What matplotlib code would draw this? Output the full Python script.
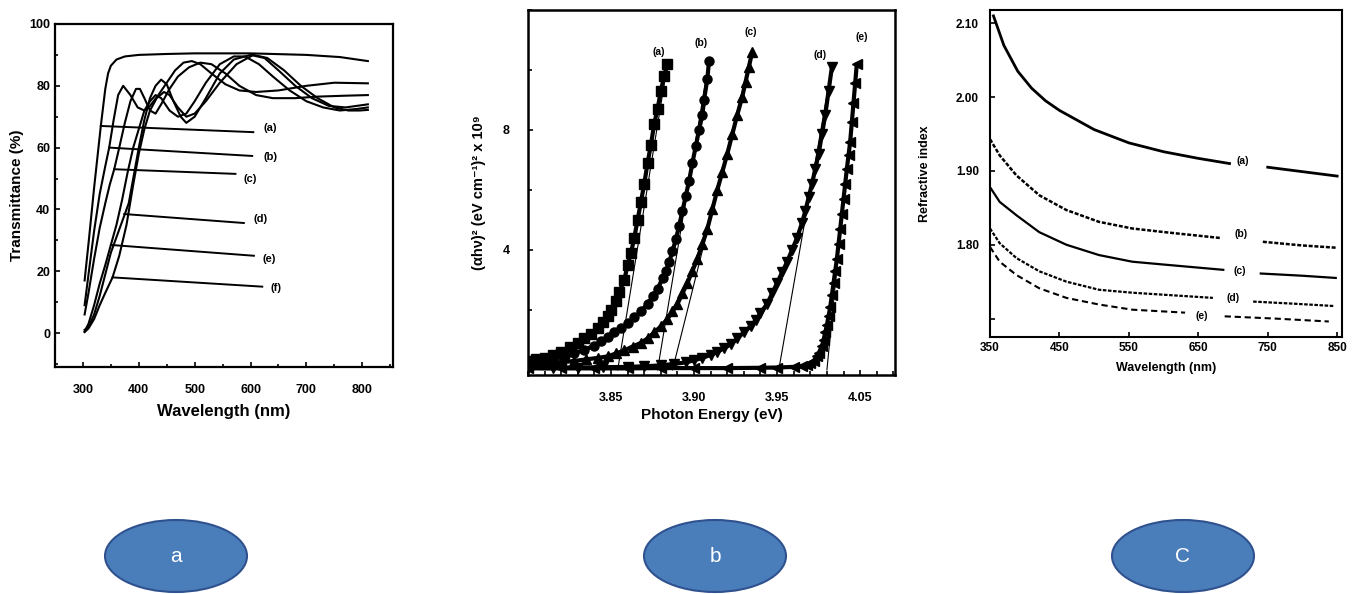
import numpy as np
import matplotlib
matplotlib.use('Agg')
import matplotlib.pyplot as plt
from matplotlib.patches import Ellipse
from matplotlib.ticker import MultipleLocator

plt.rcParams['font.family'] = ['Liberation Sans', 'DejaVu Sans']

# ---------- panel a: transmittance ----------
ta_wl = [303, 310, 320, 332, 340, 345, 350, 360, 375, 400, 450, 500, 600, 700, 760, 810]
ta_T = [17, 29, 47, 67, 79, 84, 86.5, 88.5, 89.5, 90, 90.3, 90.5, 90.5, 90, 89.3, 88]

tb_wl = [303, 310, 320, 330, 340, 347, 355, 363, 372, 385, 398, 410, 420, 435, 450, 465,
         480, 495, 510, 530, 555, 580, 610, 650, 700, 750, 810]
tb_T = [9, 19, 33, 45, 54, 60, 69, 77, 80, 77, 73, 72, 73.5, 77, 81, 85,
        87.5, 88, 87, 84, 80.5, 78.5, 78, 78.5, 80, 81, 80.8]

tc_wl = [303, 310, 320, 330, 340, 348, 356, 365, 375, 385, 395, 402, 410, 420, 430, 440,
         455, 470, 490, 510, 530, 555, 580, 610, 640, 680, 720, 770, 810]
tc_T = [6, 13, 24, 34, 42, 48, 53, 60, 68, 75, 79, 79, 76, 72, 71, 74,
        79, 83, 86, 87.5, 87, 84, 80, 77, 76, 76, 76.5, 76.8, 77]

td_wl = [303, 310, 320, 330, 340, 350, 360, 368, 374, 382, 390, 400, 410, 420, 430, 440,
         450, 462, 475, 485, 500, 520, 545, 570, 600, 625, 650, 680, 710, 740, 770, 790, 810]
td_T = [1, 2, 6, 12, 19, 26, 31, 35, 38, 42, 50, 60, 69, 76, 80, 82,
        80.5, 75, 70, 68, 70, 76, 84, 88.5, 90, 89, 85, 80, 76, 73.5, 73, 73.5, 74]

te_wl = [303, 310, 320, 330, 340, 350, 360, 370, 380, 390, 400, 410, 420, 430, 440, 455,
         470, 485, 500, 520, 545, 570, 590, 615, 640, 670, 700, 730, 760, 790, 810]
te_T = [0.5, 3, 9, 16, 22, 28.5, 35, 43, 52, 60, 66, 72, 75, 77, 76, 72,
        70, 71, 75, 81, 87, 89.5, 89.5, 87, 83, 78.5, 75, 73, 72, 72.5, 73]

tf_wl = [303, 310, 320, 330, 340, 353, 365, 378, 390, 400, 410, 420, 432, 445, 455, 470,
         485, 500, 520, 545, 575, 605, 630, 660, 690, 720, 750, 775, 795, 810]
tf_T = [0.3, 1.5, 4.5, 9, 13, 18, 25, 35, 48, 58, 66, 72, 76, 78, 77, 73,
        70, 71, 75, 81, 87, 90, 89, 85, 80, 76, 73, 72, 72, 72.2]

trans_labels = ['(a)', '(b)', '(c)', '(d)', '(e)', '(f)']
# leader lines: start on curve, end near label
lead_start = [(332, 67), (347, 60), (356, 53), (374, 38.5), (350, 28.5), (353, 18)]
lead_end = [(605, 65), (603, 57.3), (573, 51.5), (588, 35.6), (606, 25), (621, 15)]
lead_text = [(636, 66.5), (636, 57), (600, 50), (618, 37), (633, 24), (646, 14.5)]

# ---------- panel b: (alpha h nu)^2 vs photon energy ----------
ea_E = [3.800, 3.805, 3.810, 3.815, 3.820, 3.825, 3.830, 3.834, 3.838, 3.842, 3.845,
        3.848, 3.850, 3.853, 3.855, 3.858, 3.860, 3.862, 3.864, 3.866, 3.868, 3.870,
        3.872, 3.874, 3.876, 3.878, 3.880, 3.882, 3.884]
ea_y = [0.30, 0.35, 0.40, 0.50, 0.60, 0.75, 0.90, 1.05, 1.20, 1.40, 1.60,
        1.80, 2.00, 2.30, 2.60, 3.00, 3.50, 3.90, 4.40, 5.00, 5.60, 6.20,
        6.90, 7.50, 8.20, 8.70, 9.30, 9.80, 10.2]

eb_E = [3.800, 3.808, 3.815, 3.822, 3.828, 3.834, 3.840, 3.844, 3.848, 3.852, 3.856,
        3.860, 3.864, 3.868, 3.872, 3.875, 3.878, 3.881, 3.883, 3.885, 3.887, 3.889,
        3.891, 3.893, 3.895, 3.897, 3.899, 3.901, 3.903, 3.905, 3.906, 3.908, 3.909]
eb_y = [0.20, 0.28, 0.35, 0.45, 0.55, 0.68, 0.80, 0.95, 1.10, 1.25, 1.40,
        1.55, 1.75, 1.95, 2.20, 2.45, 2.70, 3.05, 3.30, 3.60, 3.95, 4.35,
        4.80, 5.30, 5.80, 6.30, 6.90, 7.45, 8.00, 8.50, 9.00, 9.70, 10.3]

ec_E = [3.800, 3.810, 3.820, 3.828, 3.835, 3.842, 3.848, 3.853, 3.858, 3.863, 3.868,
        3.872, 3.876, 3.880, 3.884, 3.887, 3.890, 3.893, 3.896, 3.899, 3.902, 3.905,
        3.908, 3.911, 3.914, 3.917, 3.920, 3.923, 3.926, 3.929, 3.931, 3.933, 3.935]
ec_y = [0.15, 0.20, 0.25, 0.30, 0.35, 0.40, 0.45, 0.55, 0.65, 0.78, 0.90,
        1.05, 1.25, 1.45, 1.70, 1.95, 2.20, 2.55, 2.90, 3.30, 3.70, 4.20,
        4.70, 5.35, 6.00, 6.60, 7.20, 7.85, 8.50, 9.10, 9.60, 10.1, 10.6]

ed_E = [3.800, 3.815, 3.830, 3.845, 3.860, 3.870, 3.880, 3.888, 3.895, 3.900, 3.905,
        3.910, 3.914, 3.918, 3.922, 3.926, 3.930, 3.934, 3.937, 3.940, 3.944, 3.947,
        3.950, 3.953, 3.956, 3.959, 3.962, 3.965, 3.967, 3.969, 3.971, 3.973, 3.975,
        3.977, 3.979, 3.981, 3.983]
ed_y = [0.08, 0.08, 0.08, 0.09, 0.10, 0.12, 0.15, 0.20, 0.25, 0.32, 0.40,
        0.50, 0.60, 0.72, 0.85, 1.05, 1.25, 1.45, 1.65, 1.90, 2.20, 2.55,
        2.90, 3.25, 3.60, 4.00, 4.40, 4.90, 5.30, 5.75, 6.20, 6.70, 7.20,
        7.85, 8.50, 9.30, 10.1]

ee_E = [3.800, 3.820, 3.840, 3.860, 3.880, 3.900, 3.920, 3.940, 3.950, 3.960, 3.965,
        3.968, 3.970, 3.972, 3.974, 3.975, 3.977, 3.978, 3.979, 3.980, 3.981, 3.982,
        3.983, 3.984, 3.985, 3.986, 3.987, 3.988, 3.989, 3.990, 3.991, 3.992, 3.993,
        3.994, 3.995, 3.996, 3.997, 3.998]
ee_y = [0.05, 0.05, 0.05, 0.05, 0.06, 0.06, 0.06, 0.07, 0.08, 0.10, 0.12,
        0.15, 0.22, 0.30, 0.45, 0.55, 0.80, 1.00, 1.25, 1.50, 1.80, 2.10,
        2.50, 2.90, 3.30, 3.70, 4.20, 4.70, 5.20, 5.70, 6.20, 6.70, 7.15,
        7.60, 8.25, 8.90, 9.55, 10.2]

energy_labels = ['(a)', '(b)', '(c)', '(d)', '(e)']
energy_markers = ['s', 'o', '^', 'v', '<']
fit_E0 = [3.854, 3.878, 3.887, 3.951, 3.980]
fit_E1 = [3.884, 3.909, 3.935, 3.983, 3.998]
fit_y1 = [10.2, 10.3, 10.6, 10.1, 10.2]
energy_text = [(3.879, 10.6), (3.904, 10.9), (3.934, 11.25), (3.976, 10.5), (4.001, 11.1)]

# ---------- panel c: refractive index ----------
na_wl1 = [355, 370, 390, 410, 430, 450, 500, 550, 600, 650, 695]
na_n1 = [2.11, 2.07, 2.035, 2.012, 1.995, 1.982, 1.956, 1.938, 1.926, 1.917, 1.910]
na_wl2 = [750, 800, 850]
na_n2 = [1.905, 1.899, 1.893]

nb_wl1 = [350, 364, 388, 421, 460, 507, 555, 602, 683]
nb_n1 = [1.943, 1.921, 1.894, 1.867, 1.847, 1.831, 1.822, 1.817, 1.809]
nb_wl2 = [743, 800, 848]
nb_n2 = [1.804, 1.799, 1.796]

nc_wl1 = [350, 364, 388, 421, 460, 507, 555, 602, 686]
nc_n1 = [1.878, 1.858, 1.840, 1.817, 1.800, 1.786, 1.777, 1.773, 1.766]
nc_wl2 = [740, 800, 848]
nc_n2 = [1.761, 1.758, 1.755]

nd_wl1 = [350, 364, 388, 421, 460, 507, 555, 671]
nd_n1 = [1.822, 1.802, 1.782, 1.764, 1.750, 1.739, 1.735, 1.728]
nd_wl2 = [729, 790, 845]
nd_n2 = [1.723, 1.720, 1.717]

ne_wl1 = [350, 364, 388, 421, 460, 507, 555, 631]
ne_n1 = [1.797, 1.777, 1.759, 1.741, 1.728, 1.719, 1.712, 1.708]
ne_wl2 = [688, 760, 838]
ne_n2 = [1.703, 1.700, 1.696]

index_labels = ['(a)', '(b)', '(c)', '(d)', '(e)']
index_text = [(714, 1.913), (712, 1.815), (710, 1.764), (700, 1.728), (655, 1.703)]

badge_letters = ['a', 'b', 'C']

W, H = 1359, 594
fig = plt.figure(figsize=(W / 100, H / 100), dpi=100)


def ax_at(left, top, right, bottom):
    return fig.add_axes([left / W, 1 - bottom / H, (right - left) / W, (bottom - top) / H])


bold = dict(fontweight='bold')

# panel a
ax1 = ax_at(55, 24, 393, 367)
for wl, T in [(ta_wl, ta_T), (tb_wl, tb_T), (tc_wl, tc_T),
              (td_wl, td_T), (te_wl, te_T), (tf_wl, tf_T)]:
    ax1.plot(wl, T, color='black', lw=1.5)
for lab, s, e, t in zip(trans_labels, lead_start, lead_end, lead_text):
    ax1.plot([s[0], e[0]], [s[1], e[1]], color='black', lw=1.4)
    ax1.text(t[0], t[1], lab, fontsize=8, ha='center', va='center', **bold)
ax1.set_xlim(250, 855)
ax1.set_ylim(-11, 100)
ax1.set_xticks([300, 400, 500, 600, 700, 800])
ax1.set_yticks([0, 20, 40, 60, 80, 100])
ax1.xaxis.set_minor_locator(MultipleLocator(50))
ax1.yaxis.set_minor_locator(MultipleLocator(10))
ax1.tick_params(which='both', direction='in', labelsize=9, width=1.2)
ax1.tick_params(which='minor', length=2.5)
ax1.tick_params(axis='x', which='major', pad=12)
for lbl in ax1.get_xticklabels() + ax1.get_yticklabels():
    lbl.set_fontweight('bold')
ax1.set_xlabel('Wavelength (nm)', fontsize=12, labelpad=6, **bold)
ax1.set_ylabel('Transmittance (%)', fontsize=11, labelpad=4, **bold)
for sp in ax1.spines.values():
    sp.set_linewidth(1.6)

# panel b
ax2 = ax_at(528, 10, 895, 375)
series_b = [(ea_E, ea_y), (eb_E, eb_y), (ec_E, ec_y), (ed_E, ed_y), (ee_E, ee_y)]
for (E, y), m in zip(series_b, energy_markers):
    ax2.plot(E, y, color='black', lw=3, solid_capstyle='round')
    ax2.plot(E, y, linestyle='none', marker=m, ms=6.5, color='black')
for e0, e1, y1 in zip(fit_E0, fit_E1, fit_y1):
    ax2.plot([e0, e1], [0, y1], color='black', lw=0.8)
for lab, t in zip(energy_labels, energy_text):
    ax2.text(t[0], t[1], lab, fontsize=7.5, ha='center', va='center', **bold)
ax2.set_xlim(3.80, 4.021)
ax2.set_ylim(-0.17, 12)
ax2.set_xticks([3.85, 3.90, 3.95, 4.00])
ax2.set_xticklabels(['3.85', '3.90', '3.95', '4.05'])
ax2.set_yticks([4, 8])
ax2.xaxis.set_minor_locator(MultipleLocator(0.01))
ax2.yaxis.set_minor_locator(MultipleLocator(2))
ax2.tick_params(which='both', direction='in', labelsize=9, width=1.2)
ax2.tick_params(which='minor', length=3)
ax2.tick_params(axis='x', which='major', pad=12)
ax2.tick_params(axis='y', which='major', pad=13)
for lbl in ax2.get_xticklabels() + ax2.get_yticklabels():
    lbl.set_fontweight('bold')
ax2.set_xlabel('Photon Energy (eV)', fontsize=11, labelpad=3, **bold)
ax2.set_ylabel('(αhν)² (eV cm⁻¹)² x 10⁹', fontsize=10.5, labelpad=12, **bold)
for sp in ax2.spines.values():
    sp.set_linewidth(1.8)

# panel c
ax3 = ax_at(990, 10, 1342, 337)
styles = [('-', 2.0), ((0, (1.6, 0.7)), 1.8), ('-', 1.6), ((0, (1.6, 0.7)), 1.6),
          ((0, (3, 1.8)), 1.5)]
series_c = [(na_wl1, na_n1, na_wl2, na_n2), (nb_wl1, nb_n1, nb_wl2, nb_n2),
            (nc_wl1, nc_n1, nc_wl2, nc_n2), (nd_wl1, nd_n1, nd_wl2, nd_n2),
            (ne_wl1, ne_n1, ne_wl2, ne_n2)]
for (w1, n1, w2, n2), (ls, lw) in zip(series_c, styles):
    ax3.plot(w1, n1, color='black', ls=ls, lw=lw)
    ax3.plot(w2, n2, color='black', ls=ls, lw=lw)
for lab, t in zip(index_labels, index_text):
    ax3.text(t[0], t[1], lab, fontsize=7.5, ha='center', va='center', **bold)
ax3.set_xlim(350, 857)
ax3.set_ylim(1.675, 2.118)
ax3.set_xticks([350, 450, 550, 650, 750, 850])
ax3.set_yticks([1.70, 1.80, 1.90, 2.00, 2.10])
ax3.set_yticklabels(['', '1.80', '1.90', '2.00', '2.10'])
ax3.tick_params(which='both', direction='in', labelsize=8.5, width=1.2)
ax3.tick_params(axis='y', which='major', pad=8)
for lbl in ax3.get_xticklabels() + ax3.get_yticklabels():
    lbl.set_fontweight('bold')
ax3.set_xlabel('Wavelength (nm)', fontsize=9, labelpad=6, **bold)
ax3.set_ylabel('Refractive index', fontsize=9, labelpad=18, **bold)
for sp in ax3.spines.values():
    sp.set_linewidth(1.5)

# bottom badges
bg = fig.add_axes([0, 0, 1, 1], zorder=-1)
bg.set_xlim(0, W)
bg.set_ylim(H, 0)
bg.axis('off')
for cx, letter in zip([176, 715, 1183], badge_letters):
    bg.add_patch(Ellipse((cx, 556), 142, 72, facecolor='#4a7ebb', edgecolor='#2f528f', lw=1.5))
    bg.text(cx, 557, letter, color='white', fontsize=15, ha='center', va='center',
            family=['Liberation Sans', 'DejaVu Sans'])

fig.savefig('out.png', dpi=100)
